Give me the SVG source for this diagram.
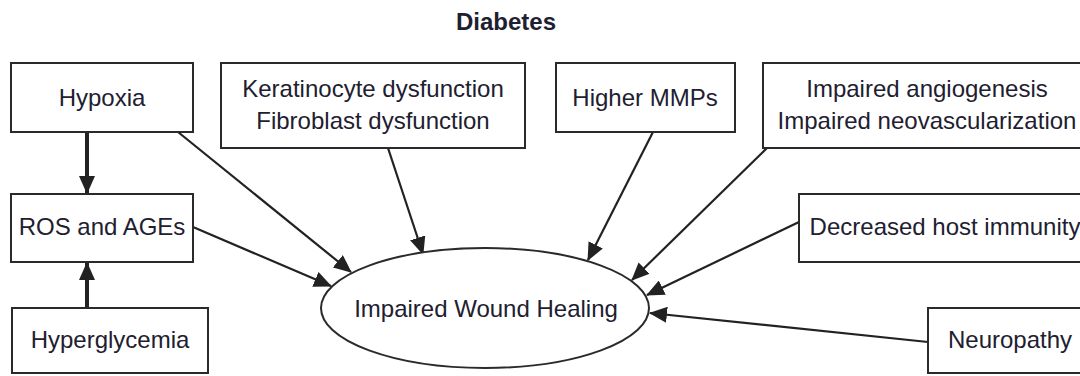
<svg xmlns="http://www.w3.org/2000/svg" width="1080" height="376" viewBox="0 0 1080 376">
<style>
.box{fill:#fff;stroke:#2a2a2a;stroke-width:2}
.lbl{font-family:"Liberation Sans",Arial,sans-serif;font-size:24px;fill:#1e2030;text-anchor:middle}
.title{font-weight:bold}
.c{stroke:#222;stroke-width:2.2;fill:none}
.ct{stroke:#222;stroke-width:4;fill:none}
</style>
<defs>
<marker id="ah" markerUnits="userSpaceOnUse" markerWidth="18" markerHeight="16" viewBox="0 0 18 16" refX="17" refY="8" orient="auto">
<path d="M0,0 L18,8 L0,16 Z" fill="#222"/>
</marker>
</defs>
<text class="lbl title" x="506" y="30">Diabetes</text>
<g id="connectors">
<line class="ct" x1="87" y1="132" x2="87" y2="193" marker-end="url(#ah)"/>
<line class="ct" x1="87" y1="308" x2="87" y2="263" marker-end="url(#ah)"/>
<line class="c" x1="178" y1="132" x2="351" y2="272" marker-end="url(#ah)"/>
<line class="c" x1="193" y1="227" x2="331" y2="286" marker-end="url(#ah)"/>
<line class="c" x1="388" y1="148" x2="423" y2="254" marker-end="url(#ah)"/>
<line class="c" x1="653" y1="132" x2="588" y2="260" marker-end="url(#ah)"/>
<line class="c" x1="767" y1="148" x2="632" y2="280" marker-end="url(#ah)"/>
<line class="c" x1="799" y1="222" x2="647" y2="295" marker-end="url(#ah)"/>
<line class="c" x1="928" y1="342" x2="650" y2="313" marker-end="url(#ah)"/>
</g>
<g id="hypoxia"><rect class="box" x="11" y="63" width="182" height="69"/><text class="lbl" x="102" y="106">Hypoxia</text></g>
<g id="keratinocyte"><rect class="box" x="221" y="63" width="304" height="85"/><text class="lbl" x="373" y="97">Keratinocyte dysfunction</text><text class="lbl" x="373" y="129">Fibroblast dysfunction</text></g>
<g id="mmps"><rect class="box" x="556" y="63" width="179" height="69"/><text class="lbl" x="645" y="106">Higher MMPs</text></g>
<g id="angiogenesis"><rect class="box" x="763" y="63" width="330" height="85"/><text class="lbl" x="927" y="97">Impaired angiogenesis</text><text class="lbl" x="927" y="129">Impaired neovascularization</text></g>
<g id="ros"><rect class="box" x="11" y="194" width="182" height="68"/><text class="lbl" x="102" y="235">ROS and AGEs</text></g>
<g id="immunity"><rect class="box" x="799" y="194" width="294" height="68"/><text class="lbl" x="945" y="235">Decreased host immunity</text></g>
<g id="hyperglycemia"><rect class="box" x="12" y="308" width="196" height="65"/><text class="lbl" x="110" y="348">Hyperglycemia</text></g>
<g id="neuropathy"><rect class="box" x="928" y="308" width="164" height="65"/><text class="lbl" x="1010" y="348">Neuropathy</text></g>
<g id="wound"><ellipse class="box" cx="485" cy="308" rx="164" ry="60"/><text class="lbl" x="486" y="317">Impaired Wound Healing</text></g>
</svg>
